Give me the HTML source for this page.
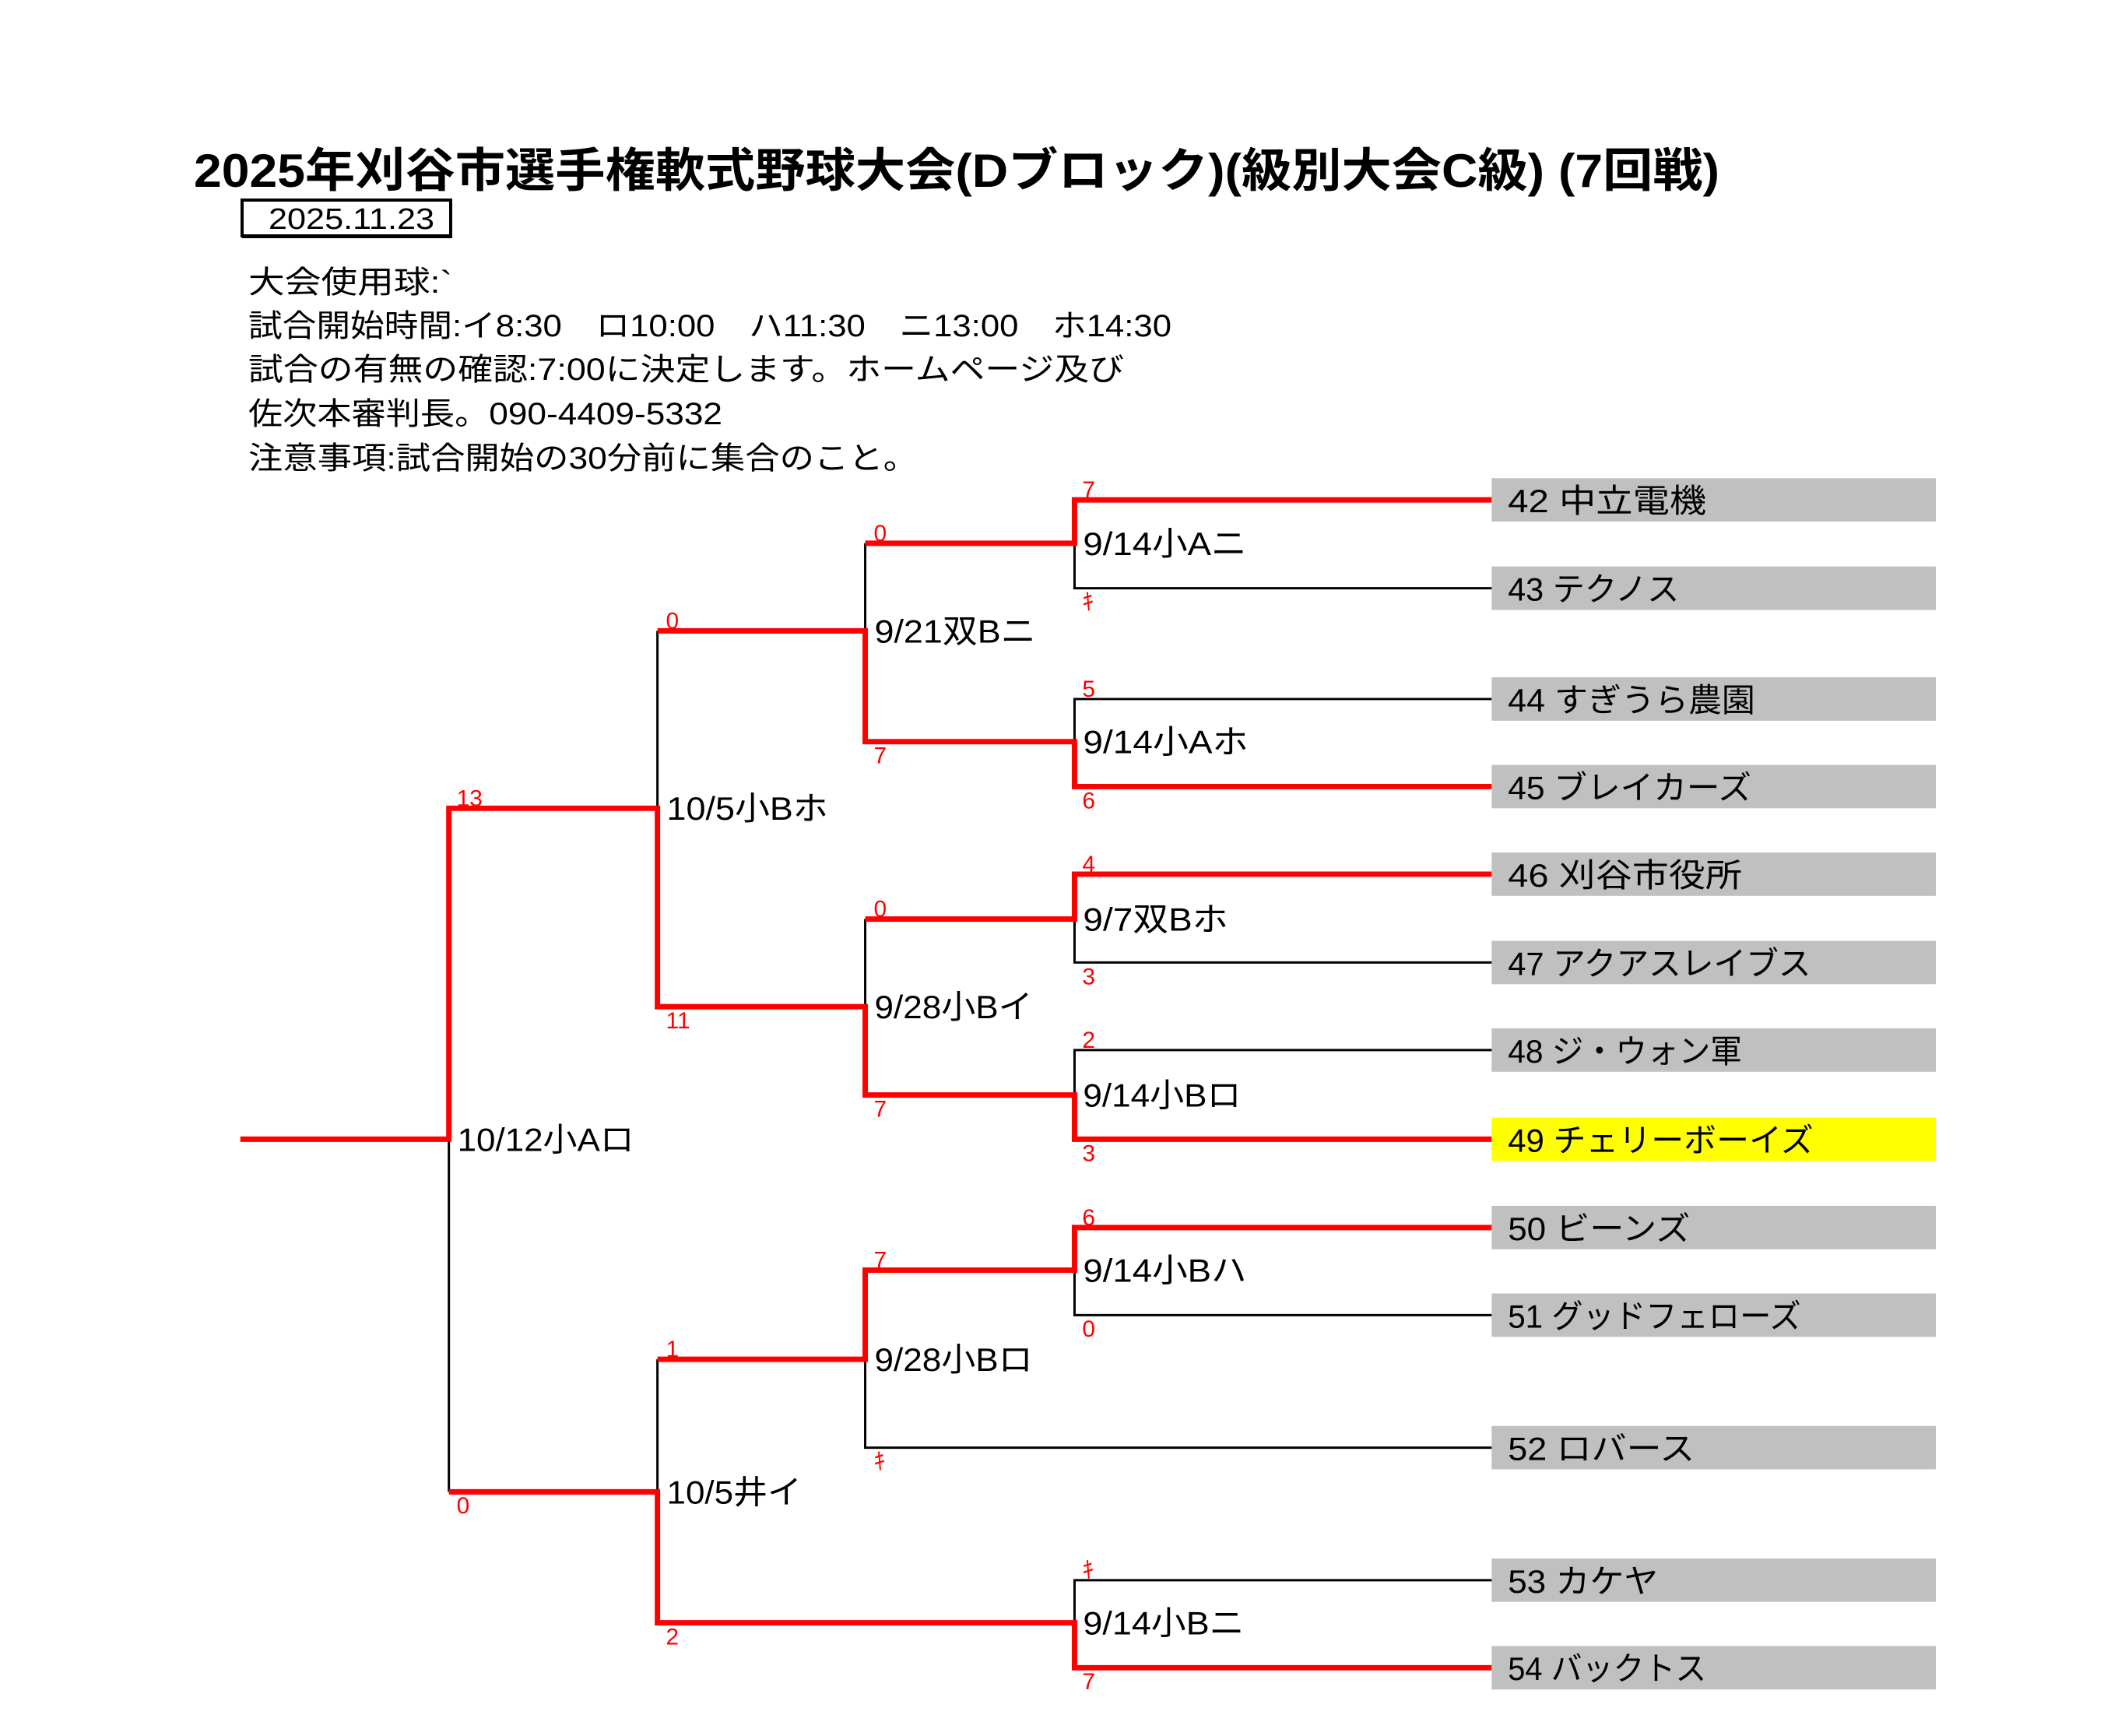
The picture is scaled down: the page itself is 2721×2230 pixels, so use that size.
<!DOCTYPE html>
<html><head><meta charset="utf-8"><style>
html,body{margin:0;padding:0;background:#fff;}
svg{display:block;}
text{font-family:"Liberation Sans","Noto Sans CJK JP",sans-serif;}
</style></head><body>
<svg width="2721" height="2230" viewBox="0 0 2721 2230" xmlns="http://www.w3.org/2000/svg">
<rect width="2721" height="2230" fill="#fff"/>
<text x="249" y="240" font-size="60" font-weight="bold" textLength="1960" lengthAdjust="spacingAndGlyphs">2025年刈谷市選手権軟式野球大会(Dブロック)(級別大会C級) (7回戦)</text>
<rect x="311" y="257" width="268" height="46" fill="none" stroke="#000" stroke-width="4"/>
<line x1="311" y1="304" x2="581" y2="304" stroke="#000" stroke-width="4"/>
<text x="345" y="294" font-size="38" textLength="213" lengthAdjust="spacingAndGlyphs">2025.11.23</text>
<g font-size="40">
<text x="319" y="376" textLength="262" lengthAdjust="spacingAndGlyphs">大会使用球:`</text>
<text x="319" y="432" textLength="1186" lengthAdjust="spacingAndGlyphs">試合開始時間:イ8:30　ロ10:00　ハ11:30　ニ13:00　ホ14:30</text>
<text x="319" y="488" textLength="1125" lengthAdjust="spacingAndGlyphs">試合の有無の確認:7:00に決定します。ホームページ及び</text>
<text x="319" y="545" textLength="609" lengthAdjust="spacingAndGlyphs">佐次本審判長。090-4409-5332</text>
<text x="319" y="602" textLength="860" lengthAdjust="spacingAndGlyphs">注意事項:試合開始の30分前に集合のこと。</text>
</g>
<g transform="scale(0.996,0.9955)">
<g fill="#c0c0c0">
<rect x="1924" y="617" width="573" height="56"/>
<rect x="1924" y="731" width="573" height="56"/>
<rect x="1924" y="874" width="573" height="56"/>
<rect x="1924" y="987" width="573" height="56"/>
<rect x="1924" y="1100" width="573" height="56"/>
<rect x="1924" y="1214" width="573" height="56"/>
<rect x="1924" y="1327" width="573" height="56"/>
<rect x="1924" y="1442" width="573" height="56" fill="#ffff00"/>
<rect x="1924" y="1556" width="573" height="56"/>
<rect x="1924" y="1669" width="573" height="56"/>
<rect x="1924" y="1840" width="573" height="56"/>
<rect x="1924" y="2011" width="573" height="56"/>
<rect x="1924" y="2124" width="573" height="56"/>
</g>
<g font-size="42">
<text x="1945" y="661" textLength="256" lengthAdjust="spacingAndGlyphs">42  中立電機</text>
<text x="1945" y="775" textLength="221" lengthAdjust="spacingAndGlyphs">43  テクノス</text>
<text x="1945" y="918" textLength="319" lengthAdjust="spacingAndGlyphs">44  すぎうら農園</text>
<text x="1945" y="1031" textLength="314" lengthAdjust="spacingAndGlyphs">45  ブレイカーズ</text>
<text x="1945" y="1144" textLength="302" lengthAdjust="spacingAndGlyphs">46  刈谷市役所</text>
<text x="1945" y="1258" textLength="391" lengthAdjust="spacingAndGlyphs">47  アクアスレイブス</text>
<text x="1945" y="1371" textLength="302" lengthAdjust="spacingAndGlyphs">48  ジ・ウォン軍</text>
<text x="1945" y="1486" textLength="394" lengthAdjust="spacingAndGlyphs">49  チェリーボーイズ</text>
<text x="1945" y="1600" textLength="235" lengthAdjust="spacingAndGlyphs">50  ビーンズ</text>
<text x="1945" y="1713" textLength="378" lengthAdjust="spacingAndGlyphs">51  グッドフェローズ</text>
<text x="1945" y="1884" textLength="241" lengthAdjust="spacingAndGlyphs">52  ロバース</text>
<text x="1945" y="2055" textLength="194" lengthAdjust="spacingAndGlyphs">53  カケヤ</text>
<text x="1945" y="2168" textLength="256" lengthAdjust="spacingAndGlyphs">54  バックトス</text>
</g>
<g stroke="#000" stroke-width="3" fill="none">
<path d="M1386 645 V759 H1924"/>
<path d="M1924 902 H1386 V1015"/>
<path d="M1386 1128 V1242 H1924"/>
<path d="M1924 1355 H1386 V1470"/>
<path d="M1386 1584 V1697 H1924"/>
<path d="M1924 2039 H1386 V2152"/>
<path d="M1116 701 V957"/>
<path d="M1116 1186 V1413"/>
<path d="M1116 1639 V1868 H1924"/>
<path d="M848 814 V1299"/>
<path d="M848 1754 V2094"/>
<path d="M579 1043 V1925"/>
</g>
<g stroke="#ff0000" stroke-width="7" fill="none">
<path d="M1924 645 H1386 V701 H1116"/>
<path d="M1924 1015 H1386 V957 H1116 V814 H848"/>
<path d="M1924 1128 H1386 V1186 H1116"/>
<path d="M1924 1470 H1386 V1413 H1116 V1299 H848 V1043 H579 V1470 H310"/>
<path d="M1924 1584 H1386 V1639 H1116 V1754 H848"/>
<path d="M1924 2152 H1386 V2094 H848 V1925 H579"/>
</g>
<g font-size="30" fill="#ff0000">
<text x="1396" y="642">7</text>
<text x="1396" y="787">ｷ</text>
<text x="1396" y="899">5</text>
<text x="1396" y="1043">6</text>
<text x="1396" y="1125">4</text>
<text x="1396" y="1270">3</text>
<text x="1396" y="1352">2</text>
<text x="1396" y="1498">3</text>
<text x="1396" y="1581">6</text>
<text x="1396" y="1725">0</text>
<text x="1396" y="2036">ｷ</text>
<text x="1396" y="2180">7</text>
<text x="1127" y="698">0</text>
<text x="1127" y="985">7</text>
<text x="1127" y="1183">0</text>
<text x="1127" y="1441">7</text>
<text x="1127" y="1636">7</text>
<text x="1127" y="1896">ｷ</text>
<text x="859" y="811">0</text>
<text x="859" y="1327">11</text>
<text x="859" y="1751">1</text>
<text x="859" y="2122">2</text>
<text x="589" y="1040">13</text>
<text x="589" y="1953">0</text>
</g>
<g font-size="42">
<text x="1397" y="716" textLength="211" lengthAdjust="spacingAndGlyphs">9/14小Aニ</text>
<text x="1397" y="972" textLength="213" lengthAdjust="spacingAndGlyphs">9/14小Aホ</text>
<text x="1397" y="1201" textLength="187" lengthAdjust="spacingAndGlyphs">9/7双Bホ</text>
<text x="1397" y="1428" textLength="204" lengthAdjust="spacingAndGlyphs">9/14小Bロ</text>
<text x="1397" y="1654" textLength="211" lengthAdjust="spacingAndGlyphs">9/14小Bハ</text>
<text x="1397" y="2109" textLength="208" lengthAdjust="spacingAndGlyphs">9/14小Bニ</text>
<text x="1128" y="829" textLength="208" lengthAdjust="spacingAndGlyphs">9/21双Bニ</text>
<text x="1128" y="1314" textLength="204" lengthAdjust="spacingAndGlyphs">9/28小Bイ</text>
<text x="1128" y="1769" textLength="204" lengthAdjust="spacingAndGlyphs">9/28小Bロ</text>
<text x="860" y="1058" textLength="208" lengthAdjust="spacingAndGlyphs">10/5小Bホ</text>
<text x="860" y="1940" textLength="174" lengthAdjust="spacingAndGlyphs">10/5井イ</text>
<text x="590" y="1485" textLength="228" lengthAdjust="spacingAndGlyphs">10/12小Aロ</text>
</g>
</g>
</svg>
</body></html>
